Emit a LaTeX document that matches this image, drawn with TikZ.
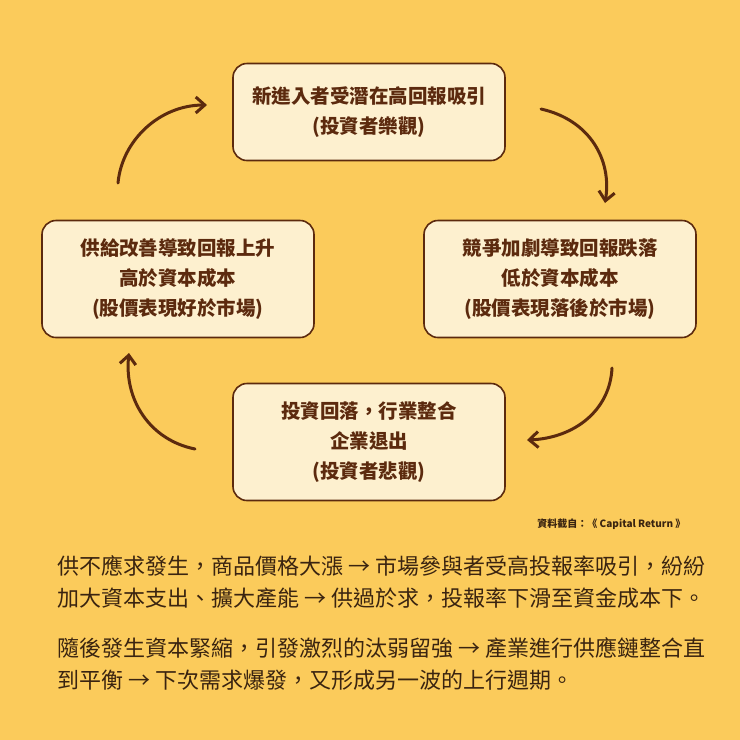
\documentclass[tikz,border=0pt]{standalone}
\usepackage{fontspec}
\setmainfont{Noto Sans CJK TC}
\usetikzlibrary{arrows.meta,positioning}
\definecolor{bgyellow}{HTML}{FBCB5B}
\definecolor{boxcream}{HTML}{FDF0CF}
\definecolor{brown}{HTML}{5C2A0E}
\definecolor{textbrown}{HTML}{3A2410}
\tikzset{
  stage/.style={draw=brown, line width=1.6pt, fill=boxcream, rounded corners=14pt,
    minimum width=272pt, align=center, text=brown,
    font=\fontsize{19.5}{30}\selectfont\bfseries},
  cyclearrow/.style={draw=brown, line width=3pt, line cap=round,
    -{Straight Barb[length=9pt,width=16pt,line width=3pt]}},
  para/.style={anchor=north west, align=left, text=textbrown, inner sep=0pt,
    font=\fontsize{22}{32}\selectfont}
}
\begin{document}
\begin{tikzpicture}[x=1pt,y=-1pt]
  \fill[bgyellow] (0,0) rectangle (740,740);
  \useasboundingbox (0,0) rectangle (740,740);

  \node[stage, minimum height=97pt] (entry) at (369,112) {新進入者受潛在高回報吸引\\(投資者樂觀)};
  \node[stage, minimum height=117pt] (compete) at (560,279) {競爭加劇導致回報跌落\\低於資本成本\\(股價表現落後於市場)};
  \node[stage, minimum height=117pt] (exit) at (369,442) {投資回落，行業整合\\企業退出\\(投資者悲觀)};
  \node[stage, minimum height=117pt] (supply) at (178,279) {供給改善導致回報上升\\高於資本成本\\(股價表現好於市場)};

  \coordinate (a1) at (541,109);
  \coordinate (a2) at (605,203);
  \coordinate (b1) at (612,368);
  \coordinate (b2) at (527,440);
  \coordinate (c1) at (195,449);
  \coordinate (c2) at (129,353);
  \coordinate (d1) at (118,183);
  \coordinate (d2) at (207,105);

  \draw[cyclearrow] (a1) .. controls (590,120) and (612,160) .. (a2);
  \draw[cyclearrow] (b1) .. controls (610,410) and (575,438) .. (b2);
  \draw[cyclearrow] (c1) .. controls (150,440) and (124,400) .. (c2);
  \draw[cyclearrow] (d1) .. controls (122,140) and (160,105) .. (d2);

  \node[anchor=east, text=textbrown, font=\fontsize{10}{12}\selectfont\bfseries] (source) at (689,524) {資料截自：《 Capital Return 》};

  \node[para] (para1) at (57,555) {供不應求發生，商品價格大漲 → 市場參與者受高投報率吸引，紛紛\\加大資本支出、擴大產能 → 供過於求，投報率下滑至資金成本下。};
  \node[para] (para2) at (57,637) {隨後發生資本緊縮，引發激烈的汰弱留強 → 產業進行供應鏈整合直\\到平衡 → 下次需求爆發，又形成另一波的上行週期。};
\end{tikzpicture}
\end{document}
